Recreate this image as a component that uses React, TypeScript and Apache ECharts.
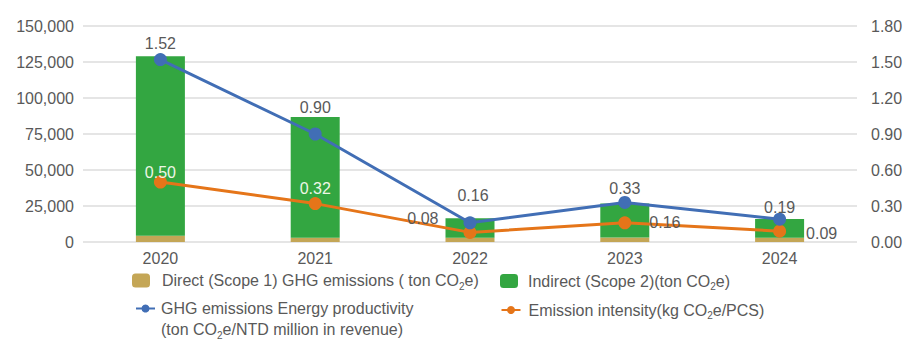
import React, { useEffect, useRef } from "react";
import * as echarts from "echarts";

const categories = ["2020", "2021", "2022", "2023", "2024"];
const directEmissions = [4300, 3000, 3000, 3100, 2900];
const indirectEmissions = [124700, 83800, 13500, 23700, 13100];
const energyProductivity = [1.52, 0.9, 0.16, 0.33, 0.19];
const emissionIntensity = [0.5, 0.32, 0.08, 0.16, 0.09];

const NAME_DIRECT = "Direct (Scope 1) GHG emissions ( ton CO2e)";
const NAME_INDIRECT = "Indirect (Scope 2)(ton CO2e)";
const NAME_PROD = "GHG emissions Energy productivity (ton CO2e/NTD million in revenue)";
const NAME_INT = "Emission intensity(kg CO2e/PCS)";

const FONT = "'Liberation Sans', Arial, Helvetica, sans-serif";
const TXT = "#595959";

const rich = {
  t: { fontSize: 16, color: TXT, fontFamily: FONT, lineHeight: 21 },
  s: { fontSize: 10, color: TXT, fontFamily: FONT, lineHeight: 21, verticalAlign: "bottom" as const, padding: [4, 0, 0, 0] },
};

const legendText: Record<string, string> = {
  [NAME_DIRECT]: "{t|Direct (Scope 1) GHG emissions ( ton CO}{s|2}{t|e)}",
  [NAME_INDIRECT]: "{t|Indirect (Scope 2)(ton CO}{s|2}{t|e)}",
  [NAME_PROD]: "{t|GHG emissions Energy productivity}\n{t|(ton CO}{s|2}{t|e/NTD million in revenue)}",
  [NAME_INT]: "{t|Emission intensity(kg CO}{s|2}{t|e/PCS)}",
};

// label placement (layout only)
const prodLabelOffsets = [[0, 3], [0, -7.5], [3, -8], [0, 5.5], [0, 7.5]];
const intLabelCfg = [
  { position: "top", offset: [0, 9.5], color: "#eef6e6" },
  { position: "top", offset: [0, 4], color: "#eef6e6" },
  { position: "left", offset: [-20, -14], color: TXT },
  { position: "right", offset: [13, 0], color: TXT },
  { position: "right", offset: [15, 2], color: TXT },
];

function mkLegend(name: string, left: number, top: number, icon: "bar" | "line", gapPad: number, topPad = 0) {
  return {
    show: true,
    data: [name],
    left,
    top,
    padding: 0,
    selectedMode: false,
    itemWidth: icon === "bar" ? 18 : 19,
    itemHeight: icon === "bar" ? 14 : 10,
    formatter: (n: string) => legendText[n],
    textStyle: {
      color: TXT,
      fontSize: 16,
      fontFamily: FONT,
      padding: [topPad, 0, 0, gapPad],
      rich,
    },
  };
}

export default function App() {
  const ref = useRef<HTMLDivElement>(null);
  useEffect(() => {
    if (!ref.current) return;
    const chart = echarts.init(ref.current, undefined, { renderer: "svg" });
    const labelBase = { fontSize: 16, fontFamily: FONT, color: TXT };
    chart.setOption({
      animation: false,
      textStyle: { fontFamily: FONT },
      grid: { left: 83, right: 66, top: 26, bottom: 108, containLabel: false },
      legend: [
        mkLegend(NAME_DIRECT, 132, 272.5, "bar", 7),
        mkLegend(NAME_INDIRECT, 500, 273, "bar", 5),
        mkLegend(NAME_PROD, 135, 300.5, "line", 1, 21),
        mkLegend(NAME_INT, 500.5, 302, "line", 3),
      ],
      xAxis: {
        type: "category",
        data: categories,
        axisLine: { show: false },
        axisTick: { show: false },
        axisLabel: { color: TXT, fontSize: 16, fontFamily: FONT, margin: 8 },
      },
      yAxis: [
        {
          type: "value",
          min: 0,
          max: 150000,
          interval: 25000,
          axisLine: { show: false },
          axisTick: { show: false },
          splitLine: { lineStyle: { color: "#dcdcdc", width: 1.5 } },
          axisLabel: {
            color: TXT,
            fontSize: 16,
            fontFamily: FONT,
            margin: 9,
            formatter: (v: number) => v.toLocaleString("en-US"),
          },
        },
        {
          type: "value",
          min: 0,
          max: 1.8,
          interval: 0.3,
          axisLine: { show: false },
          axisTick: { show: false },
          splitLine: { show: false },
          axisLabel: {
            color: TXT,
            fontSize: 16,
            fontFamily: FONT,
            margin: 14,
            formatter: (v: number) => v.toFixed(2),
          },
        },
      ],
      series: [
        {
          name: NAME_DIRECT,
          type: "bar",
          stack: "total",
          barWidth: 49,
          data: directEmissions,
          itemStyle: { color: "#c4a656" },
        },
        {
          name: NAME_INDIRECT,
          type: "bar",
          stack: "total",
          barWidth: 49,
          data: indirectEmissions,
          itemStyle: { color: "#33a641" },
        },
        {
          name: NAME_INT,
          type: "line",
          yAxisIndex: 1,
          symbol: "circle",
          symbolSize: 13,
          lineStyle: { color: "#e57519", width: 3 },
          itemStyle: { color: "#e57519" },
          data: emissionIntensity.map((v, i) => ({
            value: v,
            label: {
              show: true,
              ...labelBase,
              position: intLabelCfg[i].position,
              offset: intLabelCfg[i].offset,
              color: intLabelCfg[i].color,
              formatter: (p: any) => Number(p.value).toFixed(2),
            },
          })),
        },
        {
          name: NAME_PROD,
          type: "line",
          yAxisIndex: 1,
          symbol: "circle",
          symbolSize: 13,
          lineStyle: { color: "#416eb5", width: 3 },
          itemStyle: { color: "#416eb5" },
          data: energyProductivity.map((v, i) => ({
            value: v,
            label: {
              show: true,
              ...labelBase,
              position: "top",
              offset: prodLabelOffsets[i],
              formatter: (p: any) => Number(p.value).toFixed(2),
            },
          })),
        },
      ],
    });
    return () => chart.dispose();
  }, []);
  return (
    <div
      ref={ref}
      style={{ position: "fixed", left: 0, top: 0, width: 923, height: 350, background: "#fff" }}
    />
  );
}
